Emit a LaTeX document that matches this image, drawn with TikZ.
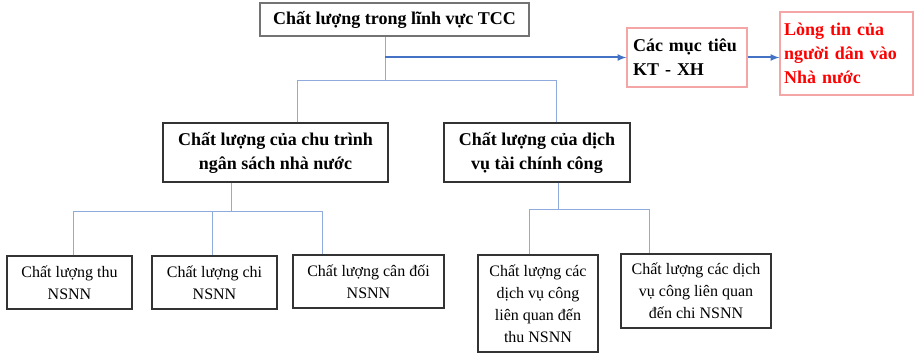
\documentclass[tikz,border=0pt]{standalone}
\usepackage{fontspec}
\setmainfont{Liberation Serif}
\definecolor{linkblue}{HTML}{8FAADC}
\definecolor{arrowblue}{HTML}{4472C4}
\definecolor{softred}{HTML}{F4A6A6}
\tikzset{
    box/.style={draw=black!80, line width=1.2pt, inner sep=0pt, align=center},
    bigtext/.style={font=\fontsize{18}{24}\selectfont\bfseries},
    smalltext/.style={font=\fontsize{16}{22}\selectfont},
    link/.style={draw=linkblue, line width=1pt},
    flow/.style={draw=arrowblue, line width=2pt, -latex}
}
\begin{document}
\begin{tikzpicture}[x=1pt, y=-1pt]
            \useasboundingbox (0, 0) rectangle (915, 353);
            \node[box, bigtext, draw=black!55, minimum width=269pt, minimum height=33pt] (top) at (394.5, 19.5) {Chất lượng trong lĩnh vực TCC};
            \node[box, bigtext, draw=softred, align=left, text width=108pt, minimum width=120pt, minimum height=59pt] (goal) at (687, 57.5) {Các mục tiêu\\KT - XH};
            \node[box, bigtext, draw=softred, text=red, align=left, text width=125pt, minimum width=133pt, minimum height=83pt] (trust) at (846.5, 53.5) {Lòng tin của\\người dân vào\\Nhà nước};
            \node[box, bigtext, minimum width=225pt, minimum height=59pt] (cycle) at (275.5, 152.5) {Chất lượng của chu trình\\ngân sách nhà nước};
            \node[box, bigtext, minimum width=186pt, minimum height=59pt] (service) at (537, 152.5) {Chất lượng của dịch\\vụ tài chính công};
            \node[box, smalltext, minimum width=125pt, minimum height=53pt] (rev) at (69.5, 282.5) {Chất lượng thu\\NSNN};
            \node[box, smalltext, minimum width=125pt, minimum height=53pt] (exp) at (214.5, 282.5) {Chất lượng chi\\NSNN};
            \node[box, smalltext, minimum width=151pt, minimum height=53pt] (bal) at (368.5, 281.5) {Chất lượng cân đối\\NSNN};
            \node[box, smalltext, minimum width=120pt, minimum height=97pt] (srev) at (538, 303.5) {Chất lượng các\\dịch vụ công\\liên quan đến\\thu NSNN};
            \node[box, smalltext, minimum width=150pt, minimum height=74pt] (sexp) at (696, 291) {Chất lượng các dịch\\vụ công liên quan\\đến chi NSNN};
            % top level
            \coordinate (hub) at (385, 80);
            \coordinate (b1) at (297, 80);
            \coordinate (b2) at (556, 80);
            \draw[link] (top.south -| hub) -- (hub);
            \draw[link] (cycle.north -| b1) -- (b1) -- (b2) -- (service.north -| b2);
            \draw[flow] (goal.west -| hub) -- (goal.west);
            \draw[flow] (goal.east) -- (goal.east -| trust.west);
            % budget cycle
            \coordinate (c0) at (231, 211);
            \coordinate (c1) at (73, 211);
            \coordinate (c2) at (212, 211);
            \coordinate (c3) at (322, 211);
            \draw[link] (cycle.south -| c0) -- (c0);
            \draw[link] (rev.north -| c1) -- (c1) -- (c3) -- (bal.north -| c3);
            \draw[link] (exp.north -| c2) -- (c2);
            % public services
            \coordinate (s0) at (558, 209);
            \coordinate (s1) at (529, 209);
            \coordinate (s2) at (649, 209);
            \draw[link] (service.south -| s0) -- (s0);
            \draw[link] (srev.north -| s1) -- (s1) -- (s2) -- (sexp.north -| s2);
        \end{tikzpicture}
\end{document}
